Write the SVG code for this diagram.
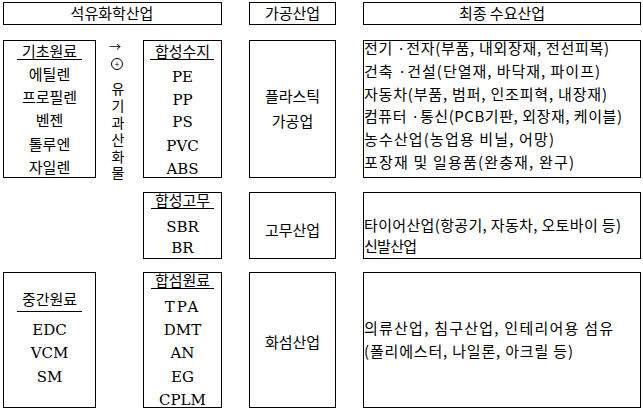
<svg xmlns="http://www.w3.org/2000/svg" width="643" height="411" viewBox="0 0 643 411">
<style>
rect{fill:#fff;stroke:#000;stroke-width:1}
.k{font-family:"Noto Sans CJK KR","Liberation Sans",sans-serif;font-size:15px;fill:#000}
.c{text-anchor:middle}
.l{font-family:"DejaVu Serif","Liberation Serif","Noto Sans CJK KR",serif;font-size:15px;fill:#000;text-anchor:middle}
.u{stroke:#000;stroke-width:1}
.v{writing-mode:vertical-rl;text-anchor:start;font-size:14px;letter-spacing:2.8px}
</style>
<rect x="0" y="0" width="643" height="411" style="stroke:none"/>
<g id="header-petro"><rect x="3.5" y="2.5" width="218" height="22"/><text class="k c" x="112" y="19">석유화학산업</text></g>
<g id="header-process"><rect x="249.5" y="2.5" width="86" height="22"/><text class="k c" x="292.5" y="19">가공산업</text></g>
<g id="header-demand"><rect x="363.5" y="2.5" width="277" height="22"/><text class="k c" x="502" y="19">최종 수요산업</text></g>

<g id="basic">
<rect x="3.5" y="40.5" width="92" height="137"/>
<text class="k c" x="49.5" y="57">기초원료</text>
<line class="u" x1="17" y1="59.5" x2="82" y2="59.5"/>
<text class="k c" x="49.5" y="80">에틸렌</text>
<text class="k c" x="49.5" y="103">프로필렌</text>
<text class="k c" x="49.5" y="126">벤젠</text>
<text class="k c" x="49.5" y="150">톨루엔</text>
<text class="k c" x="49.5" y="173">자일렌</text>
</g>

<g id="peroxide">
<text class="k c" x="115" y="52" style="font-size:12px">→</text>
<circle cx="117" cy="64" r="5.5" fill="none" stroke="#000" stroke-width="1"/>
<text class="k c" x="117" y="67" style="font-size:8px">+</text>
<text class="k v" x="118" y="82">유기과산화물</text>
</g>

<g id="resin">
<rect x="143.5" y="40.5" width="78" height="137"/>
<text class="k c" x="182.5" y="57">합성수지</text>
<line class="u" x1="150" y1="59.5" x2="214" y2="59.5"/>
<text class="l" x="182.5" y="82">PE</text>
<text class="l" x="182.5" y="105">PP</text>
<text class="l" x="182.5" y="127">PS</text>
<text class="l" x="182.5" y="151">PVC</text>
<text class="l" x="182.5" y="174">ABS</text>
</g>

<g id="plastic">
<rect x="249.5" y="40.5" width="86" height="137"/>
<text class="k c" x="292.5" y="102">플라스틱</text>
<text class="k c" x="292.5" y="127">가공업</text>
</g>

<g id="demand-plastic">
<rect x="363.5" y="40.5" width="277" height="137"/>
<text class="k" x="364" y="54" textLength="245" lengthAdjust="spacing">전기 ·전자(부품, 내외장재, 전선피복)</text>
<text class="k" x="364" y="77" textLength="236" lengthAdjust="spacing">건축 ·건설(단열재, 바닥재, 파이프)</text>
<text class="k" x="364" y="100" textLength="243" lengthAdjust="spacing">자동차(부품, 범퍼, 인조피혁, 내장재)</text>
<text class="k" x="364" y="122" textLength="258" lengthAdjust="spacing">컴퓨터 ·통신(PCB기판, 외장재, 케이블)</text>
<text class="k" x="364" y="145" textLength="190" lengthAdjust="spacing">농수산업(농업용 비닐, 어망)</text>
<text class="k" x="364" y="168" textLength="210" lengthAdjust="spacing">포장재 및 일용품(완충재, 완구)</text>
</g>

<g id="rubber">
<rect x="143.5" y="192.5" width="78" height="66"/>
<text class="k c" x="182.5" y="206">합성고무</text>
<line class="u" x1="151" y1="208.5" x2="214" y2="208.5"/>
<text class="l" x="182.5" y="232">SBR</text>
<text class="l" x="182.5" y="253">BR</text>
</g>

<g id="rubber-ind">
<rect x="249.5" y="192.5" width="86" height="66"/>
<text class="k c" x="292.5" y="236">고무산업</text>
</g>

<g id="demand-rubber">
<rect x="363.5" y="192.5" width="277" height="66"/>
<text class="k" x="364" y="231" textLength="257" lengthAdjust="spacing">타이어산업(항공기, 자동차, 오토바이 등)</text>
<text class="k" x="364" y="252" textLength="53" lengthAdjust="spacing">신발산업</text>
</g>

<g id="intermediate">
<rect x="3.5" y="272.5" width="92" height="135"/>
<text class="k c" x="49.5" y="305">중간원료</text>
<line class="u" x1="17" y1="311.5" x2="82" y2="311.5"/>
<text class="l" x="49.5" y="335">EDC</text>
<text class="l" x="49.5" y="358">VCM</text>
<text class="l" x="49.5" y="382">SM</text>
</g>

<g id="fiber-raw">
<rect x="143.5" y="272.5" width="78" height="135"/>
<text class="k c" x="182.5" y="286">합섬원료</text>
<line class="u" x1="151" y1="288.5" x2="214" y2="288.5"/>
<text class="l" x="182.5" y="312" style="letter-spacing:2px">TPA</text>
<text class="l" x="182.5" y="335">DMT</text>
<text class="l" x="182.5" y="358">AN</text>
<text class="l" x="182.5" y="382">EG</text>
<text class="l" x="182.5" y="405">CPLM</text>
</g>

<g id="fiber-ind">
<rect x="249.5" y="272.5" width="86" height="135"/>
<text class="k c" x="292.5" y="348">화섬산업</text>
</g>

<g id="demand-fiber">
<rect x="363.5" y="272.5" width="277" height="135"/>
<text class="k" x="364" y="334" textLength="249" lengthAdjust="spacing">의류산업, 침구산업, 인테리어용 섬유</text>
<text class="k" x="364" y="357" textLength="209" lengthAdjust="spacing">(폴리에스터, 나일론, 아크릴 등)</text>
</g>

<g id="connectors"></g>
</svg>
